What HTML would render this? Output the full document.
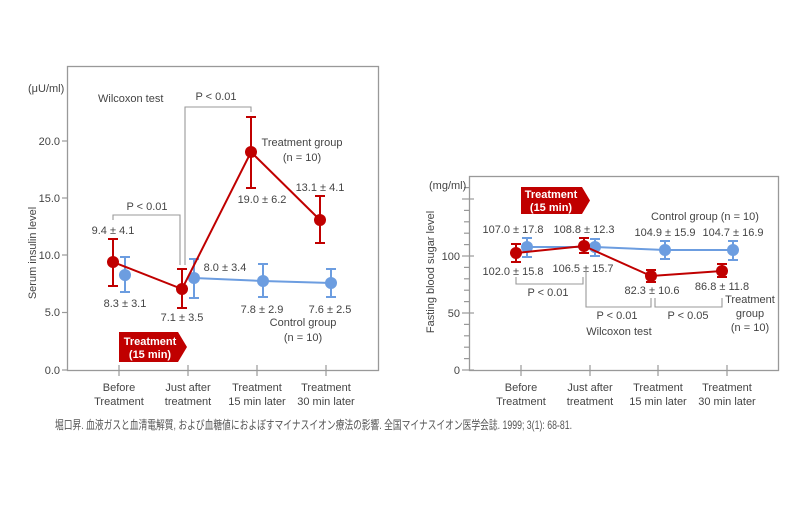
<!DOCTYPE html>
<html><head><meta charset="utf-8"><style>
body{margin:0;background:#fff;}
svg{display:block;font-family:"Liberation Sans","Noto Sans CJK JP",sans-serif;}
</style></head><body>
<svg width="800" height="510" viewBox="0 0 800 510">
<rect width="800" height="510" fill="#fff"/>
<g fill="none" stroke="#999" stroke-width="1.3">
<rect x="67.5" y="66.5" width="311" height="304"/>
<rect x="469.5" y="176.5" width="309" height="194"/>
</g>
<g stroke="#999" stroke-width="1.2">
<line x1="62" y1="370" x2="68" y2="370"/><line x1="62" y1="312.5" x2="68" y2="312.5"/>
<line x1="62" y1="255" x2="68" y2="255"/><line x1="62" y1="198" x2="68" y2="198"/>
<line x1="62" y1="141" x2="68" y2="141"/>
<line x1="119" y1="365" x2="119" y2="376"/><line x1="188" y1="365" x2="188" y2="376"/>
<line x1="257" y1="365" x2="257" y2="376"/><line x1="326" y1="365" x2="326" y2="376"/>
<line x1="521" y1="365" x2="521" y2="376"/><line x1="590" y1="365" x2="590" y2="376"/>
<line x1="658" y1="365" x2="658" y2="376"/><line x1="727" y1="365" x2="727" y2="376"/>
<line x1="462" y1="370" x2="474" y2="370"/><line x1="462" y1="313" x2="474" y2="313"/>
<line x1="462" y1="256" x2="474" y2="256"/><line x1="462" y1="199" x2="474" y2="199"/>
<line x1="464" y1="358.6" x2="469" y2="358.6"/><line x1="464" y1="347.2" x2="469" y2="347.2"/>
<line x1="464" y1="335.8" x2="469" y2="335.8"/><line x1="464" y1="324.4" x2="469" y2="324.4"/>
<line x1="464" y1="301.6" x2="469" y2="301.6"/><line x1="464" y1="290.2" x2="469" y2="290.2"/>
<line x1="464" y1="278.8" x2="469" y2="278.8"/><line x1="464" y1="267.4" x2="469" y2="267.4"/>
<line x1="464" y1="244.6" x2="469" y2="244.6"/><line x1="464" y1="233.2" x2="469" y2="233.2"/>
<line x1="464" y1="221.8" x2="469" y2="221.8"/><line x1="464" y1="210.4" x2="469" y2="210.4"/>
<line x1="464" y1="187.6" x2="469" y2="187.6"/>
</g>
<g fill="#444" font-size="11">
<g text-anchor="end">
<text x="60" y="374">0.0</text><text x="60" y="316">5.0</text><text x="60" y="259">10.0</text>
<text x="60" y="202">15.0</text><text x="60" y="145">20.0</text>
<text x="460" y="374">0</text><text x="460" y="317">50</text><text x="460" y="260">100</text>
</g>
<text x="28" y="92">(μU/ml)</text>
<text x="429" y="189">(mg/ml)</text>
<text transform="translate(36,253) rotate(-90)" text-anchor="middle">Serum insulin level</text>
<text transform="translate(434,272) rotate(-90)" text-anchor="middle">Fasting blood sugar level</text>
<g text-anchor="middle">
<text x="119" y="391">Before</text><text x="119" y="405">Treatment</text>
<text x="188" y="391">Just after</text><text x="188" y="405">treatment</text>
<text x="257" y="391">Treatment</text><text x="257" y="405">15 min later</text>
<text x="326" y="391">Treatment</text><text x="326" y="405">30 min later</text>
<text x="521" y="391">Before</text><text x="521" y="405">Treatment</text>
<text x="590" y="391">Just after</text><text x="590" y="405">treatment</text>
<text x="658" y="391">Treatment</text><text x="658" y="405">15 min later</text>
<text x="727" y="391">Treatment</text><text x="727" y="405">30 min later</text>
<text x="216" y="100">P &lt; 0.01</text>
<text x="147" y="210">P &lt; 0.01</text>
<text x="113" y="234">9.4 ± 4.1</text>
<text x="125" y="307">8.3 ± 3.1</text>
<text x="182" y="321">7.1 ± 3.5</text>
<text x="225" y="271">8.0 ± 3.4</text>
<text x="262" y="203">19.0 ± 6.2</text>
<text x="320" y="191">13.1 ± 4.1</text>
<text x="262" y="313">7.8 ± 2.9</text>
<text x="330" y="313">7.6 ± 2.5</text>
<text x="302" y="146">Treatment group</text>
<text x="302" y="161">(n = 10)</text>
<text x="303" y="326">Control group</text>
<text x="303" y="341">(n = 10)</text>
<text x="513" y="233">107.0 ± 17.8</text>
<text x="584" y="233">108.8 ± 12.3</text>
<text x="665" y="236">104.9 ± 15.9</text>
<text x="733" y="236">104.7 ± 16.9</text>
<text x="513" y="275">102.0 ± 15.8</text>
<text x="583" y="272">106.5 ± 15.7</text>
<text x="705" y="220">Control group (n = 10)</text>
<text x="652" y="294">82.3 ± 10.6</text>
<text x="722" y="290">86.8 ± 11.8</text>
<text x="750" y="303">Treatment</text>
<text x="750" y="317">group</text>
<text x="750" y="331">(n = 10)</text>
<text x="548" y="296">P &lt; 0.01</text>
<text x="617" y="319">P &lt; 0.01</text>
<text x="688" y="319">P &lt; 0.05</text>
<text x="619" y="335">Wilcoxon test</text>
</g>
<text x="98" y="102">Wilcoxon test</text>
</g>
<g fill="none" stroke="#999" stroke-width="1.1">
<polyline points="185,265 185,107 251,107 251,112"/>
<polyline points="113,220 113,215 180,215 180,265"/>
<polyline points="516,277 516,284 583,284 583,277"/>
<polyline points="586,270 586,307 651,307 651,298"/>
<polyline points="655,298 655,307 722,307 722,298"/>
</g>
<path d="M119,332 H178 L187,347 L178,362 H119 Z" fill="#c00000"/>
<text x="150" y="345" fill="#fff" font-size="11" font-weight="bold" text-anchor="middle">Treatment</text>
<text x="150" y="358" fill="#fff" font-size="11" font-weight="bold" text-anchor="middle">(15 min)</text>
<path d="M521,187 H582 L590,200.5 L582,214 H521 Z" fill="#c00000"/>
<text x="551" y="198" fill="#fff" font-size="11" font-weight="bold" text-anchor="middle">Treatment</text>
<text x="551" y="211" fill="#fff" font-size="11" font-weight="bold" text-anchor="middle">(15 min)</text>
<g stroke="#6c9de0" stroke-width="2" fill="none">
<polyline points="194,278 263,281 331,283"/>
<path d="M125,257V292M120,257h10M120,292h10 M194,259V298M189,259h10M189,298h10 M263,264V297M258,264h10M258,297h10 M331,269V297M326,269h10M326,297h10"/>
</g>
<g fill="#6c9de0"><circle cx="125" cy="275" r="6"/><circle cx="194" cy="278" r="6"/><circle cx="263" cy="281" r="6"/><circle cx="331" cy="283" r="6"/></g>
<g stroke="#c00000" stroke-width="2" fill="none">
<polyline points="113,262 182,289 251,152 320,220"/>
<path d="M113,239V286M108,239h10M108,286h10 M182,269V308M177,269h10M177,308h10 M251,117V188M246,117h10M246,188h10 M320,196V243M315,196h10M315,243h10"/>
</g>
<g fill="#c00000"><circle cx="113" cy="262" r="6"/><circle cx="182" cy="289" r="6"/><circle cx="251" cy="152" r="6"/><circle cx="320" cy="220" r="6"/></g>
<g stroke="#6c9de0" stroke-width="2" fill="none">
<polyline points="527,247 595,247 665,250 733,250"/>
<path d="M527,238V257M522,238h10M522,257h10 M595,239V256M590,239h10M590,256h10 M665,241V259M660,241h10M660,259h10 M733,241V260M728,241h10M728,260h10"/>
</g>
<g fill="#6c9de0"><circle cx="527" cy="247" r="6"/><circle cx="595" cy="247" r="6"/><circle cx="665" cy="250" r="6"/><circle cx="733" cy="250" r="6"/></g>
<g stroke="#c00000" stroke-width="2" fill="none">
<polyline points="516,253 584,246 651,276 722,271"/>
<path d="M516,244V262M511,244h10M511,262h10 M584,238V253M579,238h10M579,253h10 M651,270V282M646,270h10M646,282h10 M722,264V277M717,264h10M717,277h10"/>
</g>
<g fill="#c00000"><circle cx="516" cy="253" r="6"/><circle cx="584" cy="246" r="6"/><circle cx="651" cy="276" r="6"/><circle cx="722" cy="271" r="6"/></g>
<text x="55" y="429" fill="#555" font-size="12" textLength="517" lengthAdjust="spacingAndGlyphs">堀口昇. 血液ガスと血清電解質, および血糖値におよぼすマイナスイオン療法の影響. 全国マイナスイオン医学会誌. 1999; 3(1): 68-81.</text>
</svg>
</body></html>
